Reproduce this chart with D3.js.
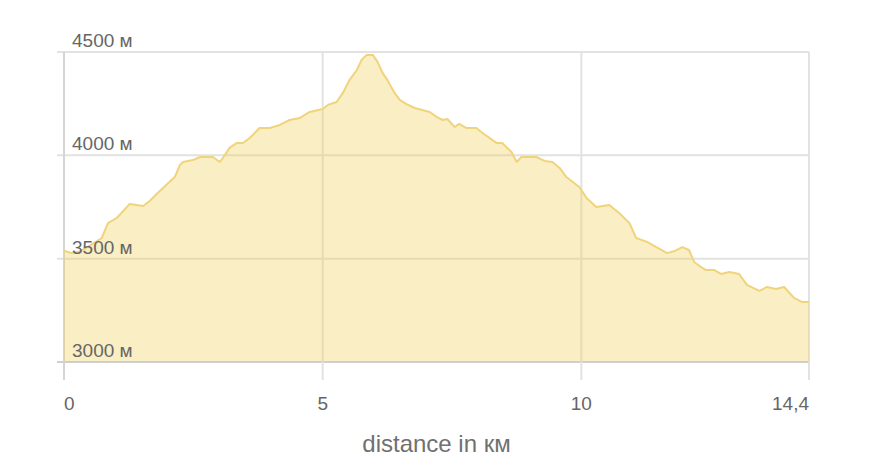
<!DOCTYPE html>
<html>
<head>
<meta charset="utf-8">
<script src="https://cdn.jsdelivr.net/npm/d3@7"></script>
<style>
  html, body { margin: 0; padding: 0; background: #fff; }
  svg { display: block; font-family: "Liberation Sans", Arial, sans-serif; }
</style>
</head>
<body>
<svg id="chart" width="877" height="468"></svg>
<script>
// distance (km)
const distanceKm = [0.00,0.15,0.31,0.45,0.73,0.85,1.02,1.27,1.53,1.66,1.80,1.95,2.14,2.24,2.30,2.49,2.63,2.88,3.01,3.07,3.20,3.34,3.46,3.59,3.78,3.98,4.17,4.36,4.56,4.75,5.00,5.10,5.27,5.39,5.52,5.66,5.75,5.85,5.97,6.06,6.16,6.25,6.39,6.49,6.62,6.78,7.07,7.20,7.32,7.41,7.55,7.64,7.78,7.97,8.09,8.36,8.47,8.65,8.75,8.84,9.13,9.29,9.44,9.58,9.71,9.96,10.10,10.29,10.54,10.73,10.93,11.06,11.27,11.45,11.66,11.80,11.95,12.08,12.18,12.34,12.41,12.57,12.70,12.86,13.05,13.20,13.44,13.59,13.76,13.92,14.11,14.27,14.40];
// elevation (m)
const elevationM = [3538,3527,3535,3556,3600,3672,3697,3765,3755,3780,3815,3850,3895,3953,3968,3977,3992,3992,3968,3987,4036,4060,4060,4084,4132,4132,4147,4171,4181,4210,4224,4244,4258,4302,4365,4413,4461,4486,4486,4452,4398,4365,4302,4268,4248,4229,4210,4186,4171,4176,4137,4152,4132,4132,4108,4060,4060,4016,3968,3992,3992,3973,3968,3939,3895,3847,3794,3750,3760,3721,3672,3600,3581,3556,3527,3537,3556,3542,3484,3455,3445,3445,3426,3435,3426,3373,3344,3363,3353,3363,3310,3290,3290];
const xTickValues = [0, 5, 10, 14.4];
const xTickLabels = ["0", "5", "10", "14,4"];
const yTickValues = [3000, 3500, 4000, 4500];
const yTickLabels = ["3000 м", "3500 м", "4000 м", "4500 м"];
const xTitle = "distance in км";

const W = 877, H = 468;
const margin = {left: 64, right: 68, top: 52, bottom: 106};
const svg = d3.select("#chart");
const x = d3.scaleLinear().domain([0, 14.4]).range([margin.left, W - margin.right]);
const y = d3.scaleLinear().domain([3000, 4500]).range([H - margin.bottom, margin.top]);
const data = distanceKm.map((d, i) => ({d, e: elevationM[i]}));

// horizontal grid
svg.append("g").selectAll("line").data(yTickValues).join("line")
  .attr("x1", margin.left - 7).attr("x2", W - margin.right)
  .attr("y1", d => y(d)).attr("y2", d => y(d))
  .attr("stroke", d => d === 3000 ? "#cfcfcf" : "#e2e2e2")
  .attr("stroke-width", 2);

// vertical grid
svg.append("g").selectAll("line").data(xTickValues).join("line")
  .attr("x1", d => x(d)).attr("x2", d => x(d))
  .attr("y1", margin.top).attr("y2", H - margin.bottom + 18)
  .attr("stroke", d => d === 0 ? "#d4d4d4" : "#e2e2e2")
  .attr("stroke-width", 2);

// area
const area = d3.area().x(d => x(d.d)).y0(y(3000)).y1(d => y(d.e));
svg.append("path").datum(data).attr("d", area)
  .attr("fill", "rgba(240,205,90,0.35)");
const line = d3.line().x(d => x(d.d)).y(d => y(d.e));
svg.append("path").datum(data).attr("d", line)
  .attr("fill", "none").attr("stroke", "#efd47c").attr("stroke-width", 2)
  .attr("stroke-linejoin", "round");

// y labels
svg.append("g").selectAll("text").data(yTickValues).join("text")
  .attr("x", margin.left + 8).attr("y", d => y(d) - 5)
  .attr("fill", "#666").attr("font-size", 19)
  .text((d, i) => yTickLabels[i]);

// x labels
svg.append("g").selectAll("text").data(xTickValues).join("text")
  .attr("x", d => x(d)).attr("y", 410)
  .attr("text-anchor", (d, i) => i === 0 ? "start" : (i === xTickValues.length - 1 ? "end" : "middle"))
  .attr("fill", "#666").attr("font-size", 19)
  .text((d, i) => xTickLabels[i]);

// title
svg.append("text").attr("x", (margin.left + W - margin.right) / 2).attr("y", 452)
  .attr("text-anchor", "middle").attr("fill", "#707070").attr("font-size", 24)
  .text(xTitle);
</script>
</body>
</html>
